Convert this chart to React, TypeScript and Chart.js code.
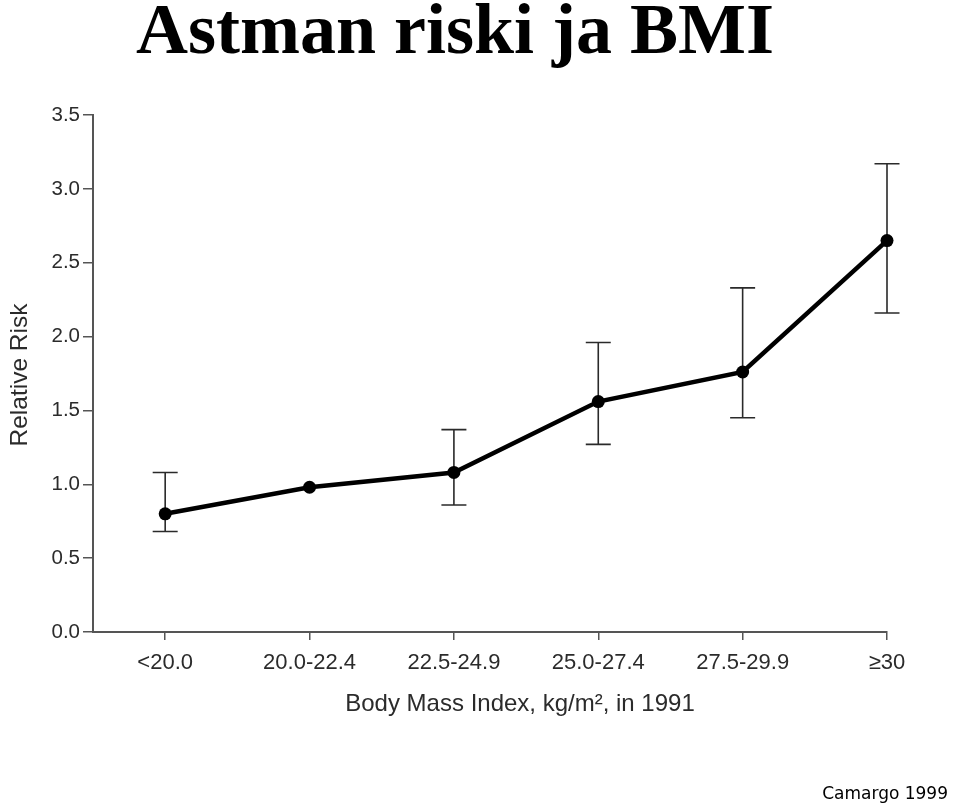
import React, { useEffect, useRef } from "react";
import { Chart, registerables } from "chart.js";

Chart.register(...registerables);

const categories = ["<20.0", "20.0-22.4", "22.5-24.9", "25.0-27.4", "27.5-29.9", "≥30"];
const relativeRisk = [0.8, 0.98, 1.08, 1.56, 1.76, 2.65];
const ciLower: (number | null)[] = [0.68, null, 0.86, 1.27, 1.45, 2.16];
const ciUpper: (number | null)[] = [1.08, null, 1.37, 1.96, 2.33, 3.17];
const yTicks = [0, 0.5, 1.0, 1.5, 2.0, 2.5, 3.0, 3.5];

const titleText = "Astman riski ja BMI";
const xTitle = "Body Mass Index, kg/m², in 1991";
const yTitle = "Relative Risk";
const sourceText = "Camargo 1999";

const errorBarPlugin = {
  id: "errorBars",
  beforeDatasetsDraw(chart: any) {
    const { ctx, scales } = chart;
    const xs = scales.x;
    const ys = scales.y;
    ctx.save();
    ctx.strokeStyle = "#2a2a2a";
    ctx.lineWidth = 1.6;
    relativeRisk.forEach((_, i) => {
      const lo = ciLower[i];
      const hi = ciUpper[i];
      if (lo == null || hi == null) return;
      const x = xs.getPixelForValue(i);
      const yl = ys.getPixelForValue(lo);
      const yh = ys.getPixelForValue(hi);
      const cap = 12.5;
      ctx.beginPath();
      ctx.moveTo(x, yl);
      ctx.lineTo(x, yh);
      ctx.moveTo(x - cap, yl);
      ctx.lineTo(x + cap, yl);
      ctx.moveTo(x - cap, yh);
      ctx.lineTo(x + cap, yh);
      ctx.stroke();
    });
    ctx.restore();
  },
};

const textPlugin = {
  id: "texts",
  afterDraw(chart: any) {
    const { ctx } = chart;
    ctx.save();
    ctx.fillStyle = "#000";
    ctx.font = "bold 72px 'Liberation Serif', 'Times New Roman', serif";
    ctx.textAlign = "center";
    ctx.textBaseline = "alphabetic";
    ctx.fillText(titleText, 455, 53);

    ctx.fillStyle = "#2b2b2b";
    ctx.font = "24px 'Liberation Sans', Arial, sans-serif";
    ctx.fillText(xTitle, 520, 711);

    ctx.save();
    ctx.translate(27, 375);
    ctx.rotate(-Math.PI / 2);
    ctx.font = "24.5px 'Liberation Sans', Arial, sans-serif";
    ctx.fillText(yTitle, 0, 0);
    ctx.restore();

    ctx.fillStyle = "#000";
    ctx.font = "17px 'DejaVu Sans', Verdana, sans-serif";
    ctx.textAlign = "right";
    ctx.fillText(sourceText, 948, 799);
    ctx.restore();
  },
};

export default function App() {
  const ref = useRef<HTMLCanvasElement | null>(null);
  useEffect(() => {
    if (!ref.current) return;
    const chart = new Chart(ref.current, {
      type: "line",
      data: {
        datasets: [
          {
            data: relativeRisk.map((v, i) => ({ x: i, y: v })),
            borderColor: "#000",
            backgroundColor: "#000",
            borderWidth: 4.5,
            pointRadius: 6.5,
            pointBackgroundColor: "#000",
            pointBorderWidth: 0,
            tension: 0,
            clip: false,
          },
        ],
      },
      options: {
        animation: false,
        responsive: false,
        maintainAspectRatio: false,
        layout: { padding: { left: 0, right: 73, top: 115, bottom: 0 } },
        plugins: { legend: { display: false }, tooltip: { enabled: false }, title: { display: false } },
        scales: {
          x: {
            type: "linear",
            min: -0.5,
            max: categories.length - 1,
            afterBuildTicks: (scale: any) => {
              scale.ticks = categories.map((_, i) => ({ value: i }));
            },
            afterFit: (scale: any) => {
              scale.height = 171;
            },
            ticks: {
              autoSkip: false,
              maxRotation: 0,
              padding: 10,
              color: "#2b2b2b",
              font: { family: "'Liberation Sans', Arial, sans-serif", size: 22 },
              callback: (v: any) => categories[Math.round(Number(v))] ?? "",
            },
            grid: { drawOnChartArea: false, drawTicks: true, tickLength: 8, color: "#555", lineWidth: 1.5 },
            border: { display: true, color: "#555", width: 2 },
          },
          y: {
            type: "linear",
            min: 0,
            max: 3.5,
            afterBuildTicks: (scale: any) => {
              scale.ticks = yTicks.map((v) => ({ value: v }));
            },
            afterFit: (scale: any) => {
              scale.width = 93;
            },
            ticks: {
              padding: 3,
              color: "#2b2b2b",
              font: { family: "'Liberation Sans', Arial, sans-serif", size: 20.5 },
              callback: (v: any) => Number(v).toFixed(1),
            },
            grid: { drawOnChartArea: false, drawTicks: true, tickLength: 10, color: "#555", lineWidth: 1.5 },
            border: { display: true, color: "#555", width: 2 },
          },
        },
      },
      plugins: [errorBarPlugin, textPlugin],
    });
    return () => chart.destroy();
  }, []);
  return (
    <div style={{ position: "fixed", left: 0, top: 0, width: 960, height: 803, background: "#fff" }}>
      <canvas ref={ref} width={960} height={803} style={{ width: 960, height: 803, display: "block" }} />
    </div>
  );
}
